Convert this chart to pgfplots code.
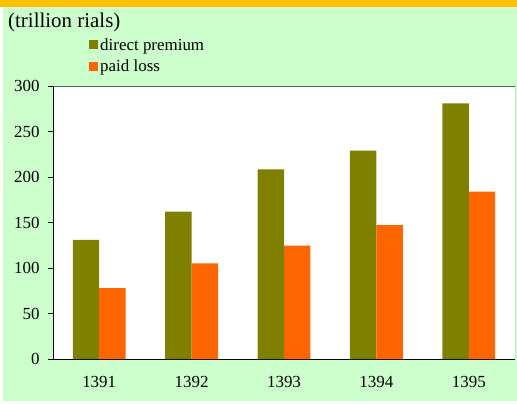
\documentclass[border=0pt]{standalone}
\usepackage{pgfplots}
\pgfplotsset{compat=1.18}
\usepackage{fontspec}
\setmainfont{Liberation Serif}
\definecolor{bggreen}{HTML}{CCFFCC}
\definecolor{strip}{HTML}{FFC000}
\definecolor{olivebar}{HTML}{808000}
\definecolor{orangebar}{HTML}{FF6600}
\definecolor{frame}{RGB}{85,100,85}
\newcommand{\tickfont}{\fontsize{17}{20}\selectfont}
\begin{document}
\begin{tikzpicture}[x=1bp,y=1bp]
\useasboundingbox (0,0) rectangle (517,403);
\fill[white] (0,0) rectangle (517,403);
\fill[bggreen] (3,2) rectangle (517,397);
\fill[strip] (0,396) rectangle (517,403);
\node[anchor=base west,inner sep=0pt,font=\fontsize{21}{24}\selectfont] at (8,376) {(trillion rials)};
\begin{axis}[
  at={(53bp,44bp)}, anchor=south west,
  scale only axis, width=462bp, height=273bp,
  xmin=-0.5, xmax=4.5, ymin=0, ymax=300,
  ytick={0,50,...,300},
  xtick={0,...,4},
  xticklabels={1391,1392,1393,1394,1395},
  x tick style={draw=none},
  extra x ticks={-0.5,0.5,1.5,2.5,3.5,4.5},
  extra x tick labels={},
  extra x tick style={major tick length=4bp, tick align=outside, tick style={draw=black}},
  y tick style={draw=black},
  major tick length=5bp,
  tick align=outside,
  axis x line*=bottom, axis y line*=left,
  axis line style={black, line width=0.9bp, -},
  axis background/.style={fill=white},
  /pgf/number format/assume math mode=true,
  yticklabel style={font=\tickfont, xshift=-5bp},
  xticklabel style={font=\tickfont, yshift=-9bp},
  ybar=0pt, bar width=0.286,
  legend style={at={(rel axis cs:0.078,1.0)}, anchor=south west, yshift=11bp,
    draw=none, fill=none, font=\fontsize{17}{20}\selectfont,
    legend cell align=left, row sep=4bp, inner sep=0pt},
  legend image code/.code={\fill[#1] (0bp,-4.5bp) rectangle (9bp,4.5bp);},
]
\addplot[fill=olivebar, draw=none] coordinates {(0,131) (1,162) (2,208.5) (3,229) (4,281)};
\addlegendentry{direct premium}
\addplot[fill=orangebar, draw=none] coordinates {(0,78) (1,105) (2,124.5) (3,147) (4,184)};
\addlegendentry{paid loss}
\draw[frame, line width=0.9bp] (rel axis cs:0,1) -- (rel axis cs:1,1) -- (rel axis cs:1,0);
\end{axis}
\end{tikzpicture}
\end{document}
